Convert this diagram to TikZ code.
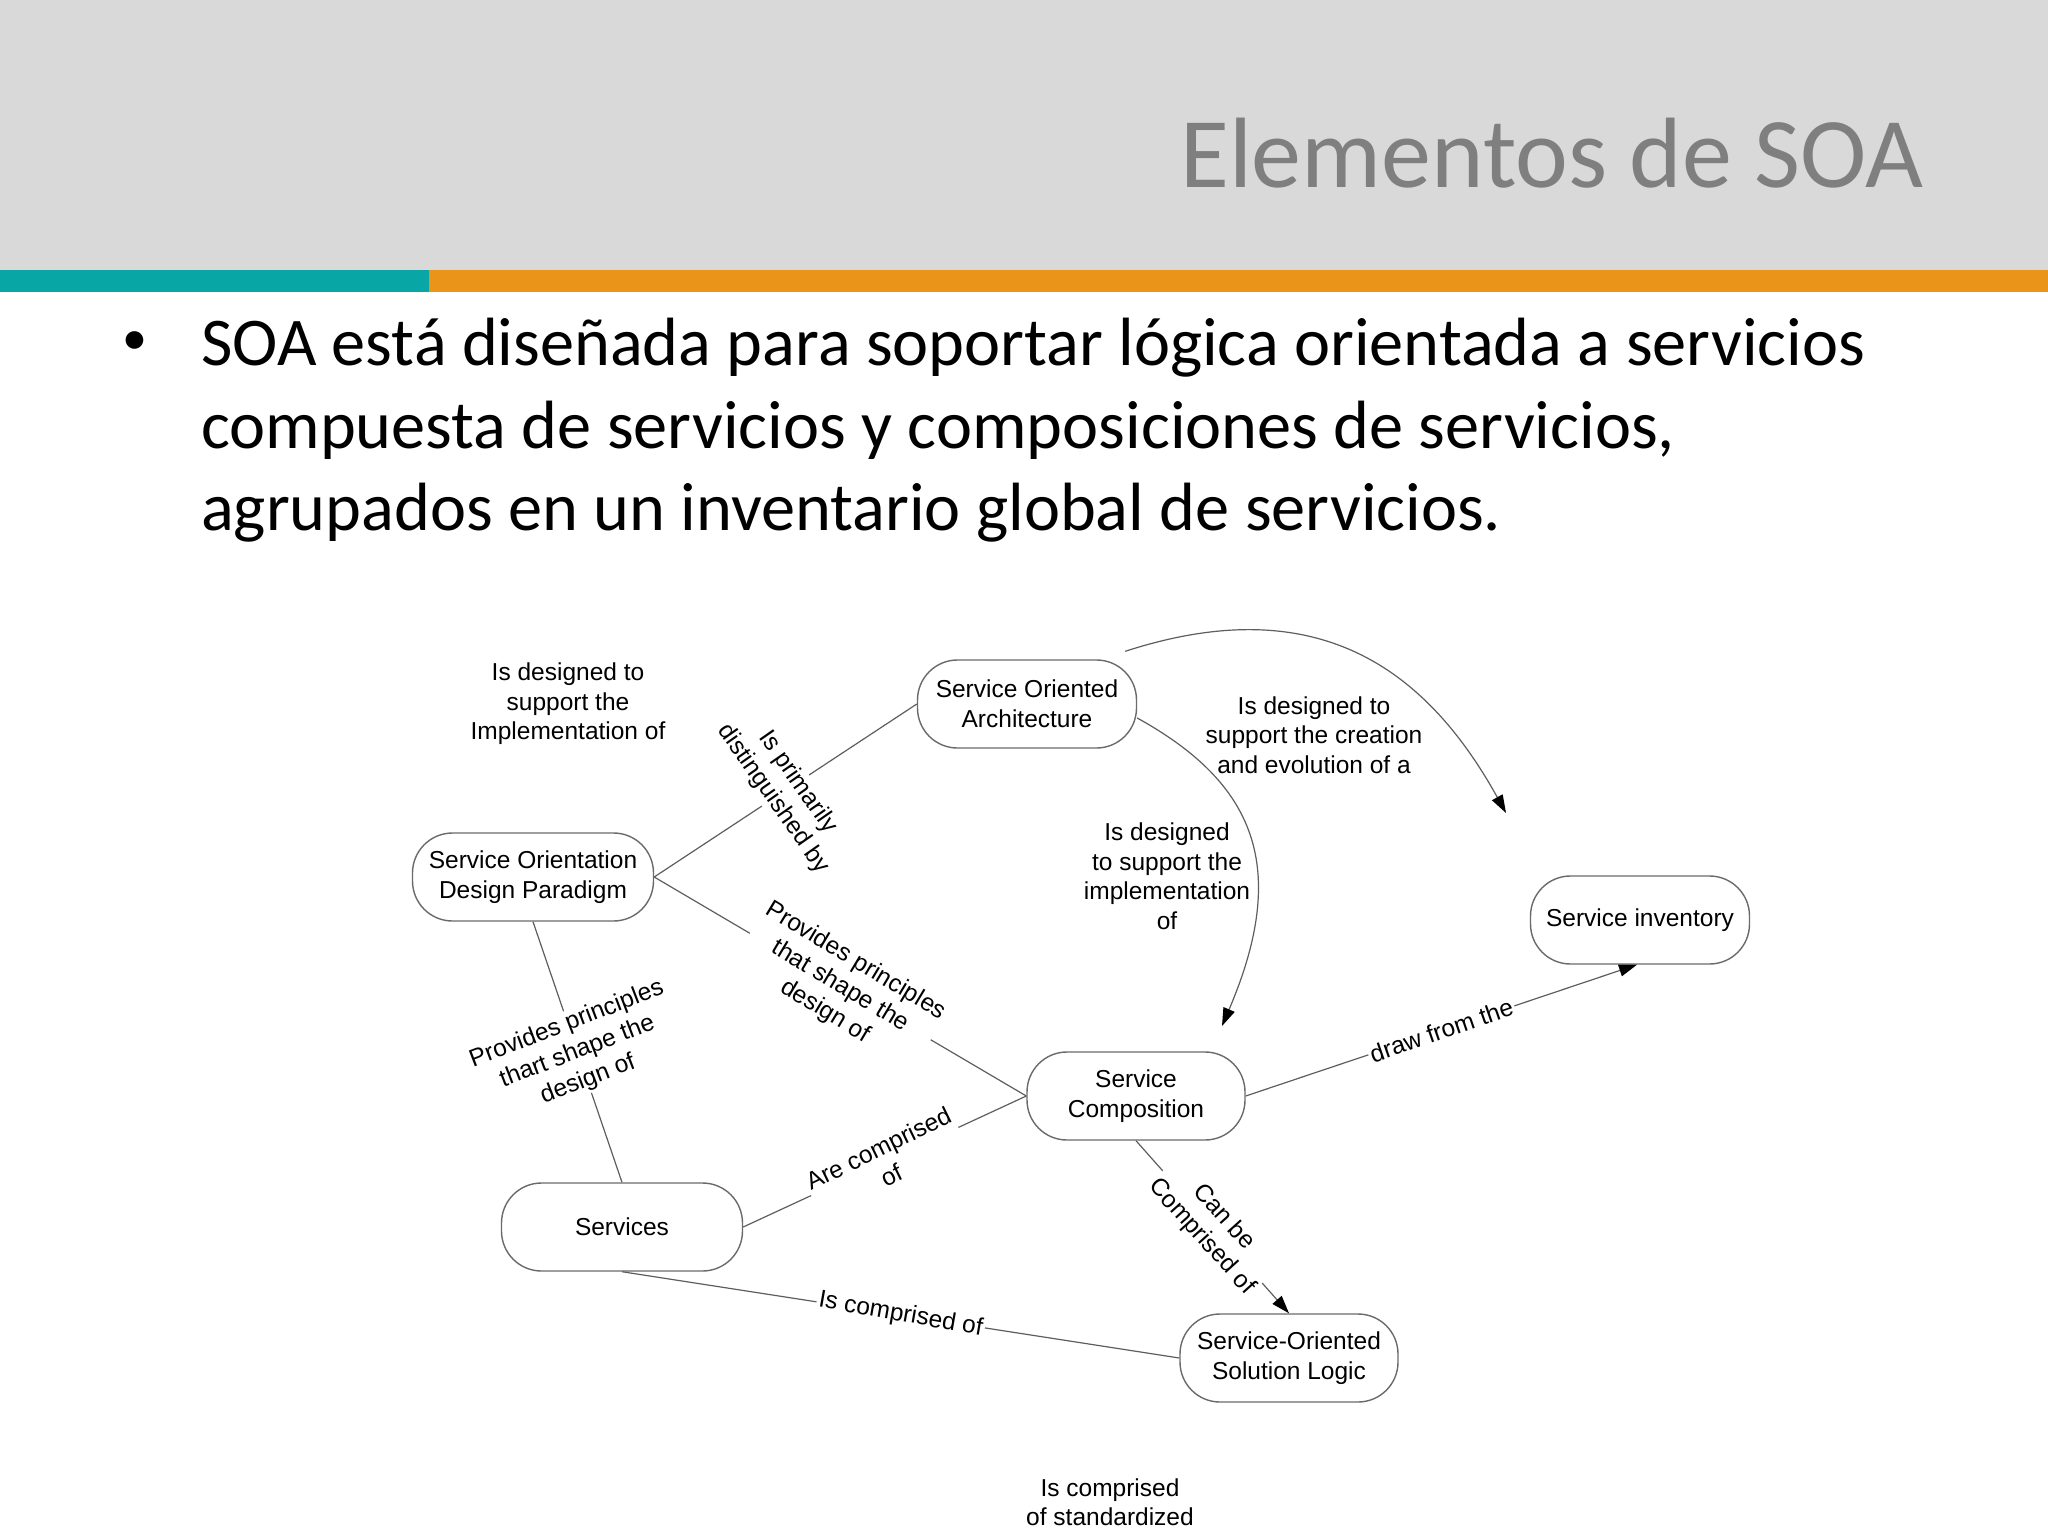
\documentclass[tikz,border=0pt]{standalone}
\usepackage{fontspec}
\setmainfont{Liberation Sans}
\newfontfamily\calibri{Carlito}
\usetikzlibrary{arrows.meta}
\definecolor{hdrgray}{HTML}{D9D9D9}
\definecolor{barteal}{HTML}{09A6A6}
\definecolor{barorange}{HTML}{EA9519}
\definecolor{titlegray}{HTML}{7F7F7F}
\definecolor{boxgray}{HTML}{6A6A6A}
\definecolor{linegray}{HTML}{5E5E5E}
\begin{document}
\begin{tikzpicture}[x=1pt,y=-1pt,
  box/.style={draw=boxgray, line width=1.4pt, rounded corners=40pt, align=center,
    font=\fontsize{24.5}{30}\selectfont, inner sep=0pt, minimum height=88pt},
  lab/.style={fill=white, align=center, font=\fontsize{24.5}{29.5}\selectfont, inner sep=2pt},
  freelab/.style={align=center, font=\fontsize{24.5}{29.5}\selectfont, inner sep=0pt},
  conn/.style={draw=linegray, line width=1.2pt},
  arrowed/.style={-{Triangle[length=18pt,width=12pt,color=black]}},
  bodytext/.style={anchor=base west, inner sep=0pt, font=\calibri\fontsize{68.3}{83}\selectfont}
]
\useasboundingbox (0,0) rectangle (2048,1536);
\fill[white] (0,0) rectangle (2048,1536);
% header
\fill[hdrgray] (0,0) rectangle (2048,270);
\fill[barteal] (0,270) rectangle (429,292);
\fill[barorange] (429,270) rectangle (2048,292);
\node[anchor=base east, inner sep=0pt, font=\calibri\fontsize{100}{100}\selectfont, text=titlegray] (title) at (1924,187) {Elementos de SOA};
% bullet text
\node[anchor=center, inner sep=0pt, font=\calibri\fontsize{50}{50}\selectfont] (bul) at (134.5,343) {•};
\node[bodytext] (l1) at (201,365) {SOA está diseñada para soportar lógica orientada a servicios};
\node[bodytext] (l2) at (201,448) {compuesta de servicios y composiciones de servicios,};
\node[bodytext] (l3) at (201,530) {agrupados en un inventario global de servicios.};
% nodes
\node[box, minimum width=219pt] (soa) at (1027,704) {Service Oriented\\Architecture};
\node[box, minimum width=241pt] (sodp) at (533,877) {Service Orientation\\Design Paradigm};
\node[box, minimum width=219pt] (si) at (1640,920) {Service inventory};
\node[box, minimum width=218pt] (sc) at (1136,1096) {Service\\Composition};
\node[box, minimum width=241pt] (services) at (622,1227) {Services};
\node[box, minimum width=218pt] (sosl) at (1289,1358) {Service-Oriented\\Solution Logic};
% free labels
\node[freelab] (t1) at (568,704) {Is designed to\\support the\\Implementation of};
\node[freelab] (t2) at (1314,735) {Is designed to\\support the creation\\and evolution of a};
\node[freelab] (t3) at (1167,876) {Is designed\\to support the\\implementation\\of};
\node[freelab] (t4) at (1110,1502) {Is comprised\\of standardized};
% connectors
\draw[conn] (sodp.east) -- node[lab, rotate=-55] (la) {Is primarily\\distinguished by} (soa.west);
\draw[conn] (sodp.south) -- node[lab, rotate=21] (lb) {Provides principles\\thart shape the\\design of} (services.north);
\draw[conn] (sodp.east) -- node[lab, rotate=-31] (lc) {Provides principles\\that shape the\\design of} (sc.west);
\draw[conn] (sc.west) -- node[lab, rotate=26] (lg) {Are comprised\\of} (services.east);
\draw[conn, arrowed] (sc.south) -- node[lab, rotate=-48] (lh) {Can be\\Comprised of} (sosl.north);
\draw[conn, arrowed] (sc.east) -- node[lab, rotate=19] (lf) {draw from the} ([xshift=-3pt]si.south);
\draw[conn] (services.south) -- node[lab, rotate=-10] (li) {Is comprised of} (sosl.west);
% curved arrows
\coordinate (dend) at (1222,1026);
\draw[conn, arrowed] ([yshift=-14pt]soa.east) .. controls (1255,783) and (1290,867) .. (dend);
\coordinate (eend) at (1506,813);
\draw[conn, arrowed] ([shift={(-12pt,8pt)}]soa.north east) .. controls (1314,590) and (1424,665) .. (eend);
\end{tikzpicture}
\end{document}
